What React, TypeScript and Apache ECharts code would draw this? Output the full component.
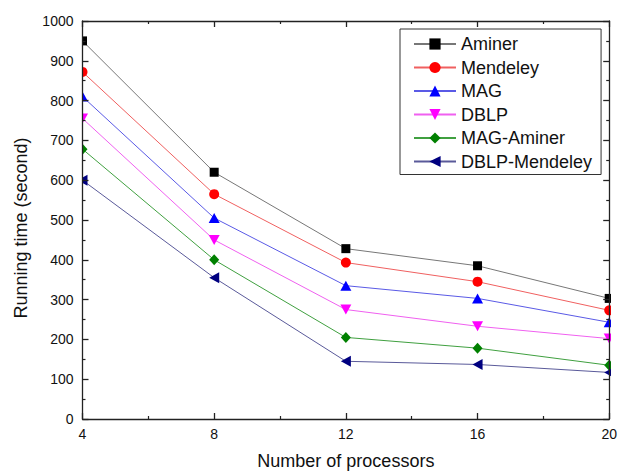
import React, { useEffect, useRef } from "react";
import * as echarts from "echarts";

const processors = [4, 8, 12, 16, 20];
const aminer = [950, 620, 428, 385, 303];
const mendeley = [872, 565, 393, 345, 273];
const mag = [810, 505, 335, 303, 243];
const dblp = [755, 450, 275, 233, 202];
const magAminer = [678, 400, 205, 178, 135];
const dblpMendeley = [600, 355, 145, 137, 117];
const seriesNames = ["Aminer", "Mendeley", "MAG", "DBLP", "MAG-Aminer", "DBLP-Mendeley"];

const FONT = "Arial, 'Liberation Sans', Helvetica, sans-serif";

export default function App() {
  const ref = useRef<HTMLDivElement>(null);
  useEffect(() => {
    const chart = echarts.init(ref.current as HTMLDivElement, null, { renderer: "svg" });
    const mk = (
      name: string,
      values: number[],
      symbol: string,
      size: number | number[],
      rotate: number,
      markerColor: string,
      lineColor: string
    ) => ({
      name,
      type: "line",
      data: processors.map((x, i) => [x, values[i]]),
      symbol,
      symbolSize: size,
      symbolRotate: rotate,
      showAllSymbol: true,
      clip: false,
      z: 2,
      itemStyle: { color: markerColor, borderWidth: 0 },
      lineStyle: { color: lineColor, width: 1 },
      emphasis: { disabled: true },
    });
    const axisCommon = {
      axisLine: { show: true, onZero: false, lineStyle: { color: "#222", width: 1.3 } },
      axisTick: { show: true, inside: true, length: 6, lineStyle: { color: "#222", width: 1.3 } },
      minorTick: { show: true, splitNumber: 2, length: 3, lineStyle: { color: "#222", width: 1.2 } },
      splitLine: { show: false },
      z: 60,
    };
    chart.setOption({
      animation: false,
      backgroundColor: "#fff",
      textStyle: { fontFamily: FONT },
      grid: { left: 82.5, right: 9.5, top: 21, bottom: 54, containLabel: false },
      legend: {
        orient: "vertical",
        left: 400,
        top: 29,
        data: seriesNames,
        itemWidth: 42,
        itemHeight: 14,
        itemGap: 3.5,
        padding: [5, 9, 3, 13],
        borderColor: "#333",
        borderWidth: 1,
        backgroundColor: "#fff",
        textStyle: { fontSize: 18, color: "#111", fontFamily: FONT, lineHeight: 20 },
        selectedMode: false,
      },
      xAxis: [
        {
          ...axisCommon,
          type: "value",
          position: "bottom",
          min: 4,
          max: 20,
          interval: 4,
          name: "Number of processors",
          nameLocation: "middle",
          nameGap: 33,
          nameTextStyle: { fontSize: 18, color: "#111", fontFamily: FONT },
          axisLabel: { show: true, fontSize: 14, color: "#111", margin: 8, fontFamily: FONT, formatter: (v: number) => String(v) },
        },
        {
          ...axisCommon,
          type: "value",
          position: "top",
          min: 4,
          max: 20,
          interval: 4,
          axisLabel: { show: false },
        },
      ],
      yAxis: [
        {
          ...axisCommon,
          type: "value",
          position: "left",
          min: 0,
          max: 1000,
          interval: 100,
          name: "Running time (second)",
          nameLocation: "middle",
          nameGap: 53,
          nameTextStyle: { fontSize: 18, color: "#111", fontFamily: FONT, padding: [0, 16, 0, 0] },
          axisLabel: { show: true, fontSize: 14, color: "#111", margin: 9, fontFamily: FONT, formatter: (v: number) => String(v) },
        },
        {
          ...axisCommon,
          type: "value",
          position: "right",
          min: 0,
          max: 1000,
          interval: 100,
          axisLabel: { show: false },
        },
      ],
      graphic: {
        z: 50,
        zlevel: 0,
        elements: [
          { type: "rect", z: 50, silent: true, shape: { x: 0, y: 0, width: 82, height: 475 }, style: { fill: "#ffffff" } },
          { type: "rect", z: 50, silent: true, shape: { x: 611, y: 0, width: 9, height: 475 }, style: { fill: "#ffffff" } },
        ],
      },
      series: [
        mk(seriesNames[0], aminer, "rect", 9, 0, "#000000", "#777777"),
        mk(seriesNames[1], mendeley, "circle", 10, 0, "#ff0000", "#f06060"),
        mk(seriesNames[2], mag, "triangle", [11, 10], 0, "#0000ff", "#5a5ae6"),
        mk(seriesNames[3], dblp, "triangle", [11, 10], 180, "#ff00ff", "#f060f0"),
        mk(seriesNames[4], magAminer, "diamond", [10, 11], 0, "#008000", "#40a040"),
        mk(seriesNames[5], dblpMendeley, "triangle", [11, 10], 90, "#000080", "#5a5a9a"),
      ],
    });
    return () => chart.dispose();
  }, []);
  return (
    <div
      ref={ref}
      style={{ position: "fixed", left: 0, top: 0, width: 620, height: 475, background: "#fff" }}
    />
  );
}
